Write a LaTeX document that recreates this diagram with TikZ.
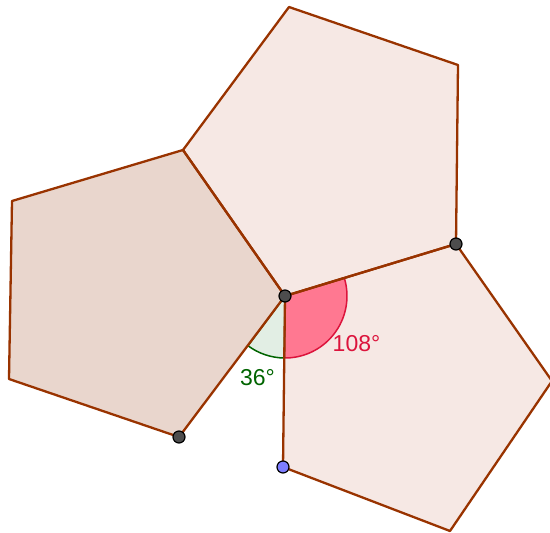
\documentclass[tikz,border=0pt]{standalone}
\usepackage{fontspec}
\setmainfont{Liberation Sans}
\definecolor{edge}{RGB}{153,51,0}
\definecolor{filldark}{RGB}{233,214,205}
\definecolor{filllight}{RGB}{246,232,228}
\definecolor{redfill}{RGB}{255,120,145}
\definecolor{redline}{RGB}{220,20,60}
\definecolor{greenfill}{RGB}{226,238,228}
\definecolor{greenline}{RGB}{0,100,0}
\definecolor{ptdark}{RGB}{77,77,77}
\definecolor{ptblue}{RGB}{125,125,255}
\tikzset{
  pent/.style={draw=edge, line width=2.3pt, line join=round},
  pt/.style={circle, draw=black, line width=1.2pt, fill=ptdark, minimum size=12pt, inner sep=0pt},
  ptb/.style={pt, fill=ptblue},
  lbl/.style={font=\fontsize{23}{27}\selectfont, inner sep=0pt}
}
\begin{document}
\begin{tikzpicture}[x=1pt,y=-1pt]
\useasboundingbox (0,0) rectangle (550,533);
\clip (0,0) rectangle (550,533);
\coordinate (C) at (285,296);
\coordinate (A) at (456,244);
\coordinate (T1) at (183,150);
\coordinate (T2) at (289,7);
\coordinate (T3) at (458,65);
\coordinate (L1) at (179,437);
\coordinate (L2) at (9,379);
\coordinate (L3) at (12,201);
\coordinate (R1) at (552,381);
\coordinate (R2) at (450,531);
\coordinate (B) at (283,467);
% fills
\fill[filllight] (T1) -- (T2) -- (T3) -- (A) -- (C) -- cycle;
\fill[filllight] (C) -- (A) -- (R1) -- (R2) -- (B) -- cycle;
\fill[filldark] (T1) -- (C) -- (L1) -- (L2) -- (L3) -- cycle;
% angle sectors
\filldraw[fill=redfill, draw=redline, line width=1.5pt] (C) -- ++(-16.9:62) arc[start angle=-16.9, end angle=90.7, radius=62] -- cycle;
\filldraw[fill=greenfill, draw=greenline, line width=1.5pt] (C) -- ++(90.7:62) arc[start angle=90.7, end angle=126.7, radius=62] -- cycle;
% outlines
\draw[pent] (T1) -- (T2) -- (T3) -- (A) -- (C) -- cycle;
\draw[pent] (C) -- (A) -- (R1) -- (R2) -- (B) -- cycle;
\draw[pent] (T1) -- (C) -- (L1) -- (L2) -- (L3) -- cycle;
% labels
\node[lbl, text=redline] (l108) at (356.5,344) {108°};
\node[lbl, text=greenline] (l36) at (257.5,378) {36°};
% points
\node[pt] (pC) at (C) {};
\node[pt] (pA) at (A) {};
\node[pt] (pL) at (L1) {};
\node[ptb] (pB) at (B) {};
\end{tikzpicture}
\end{document}
